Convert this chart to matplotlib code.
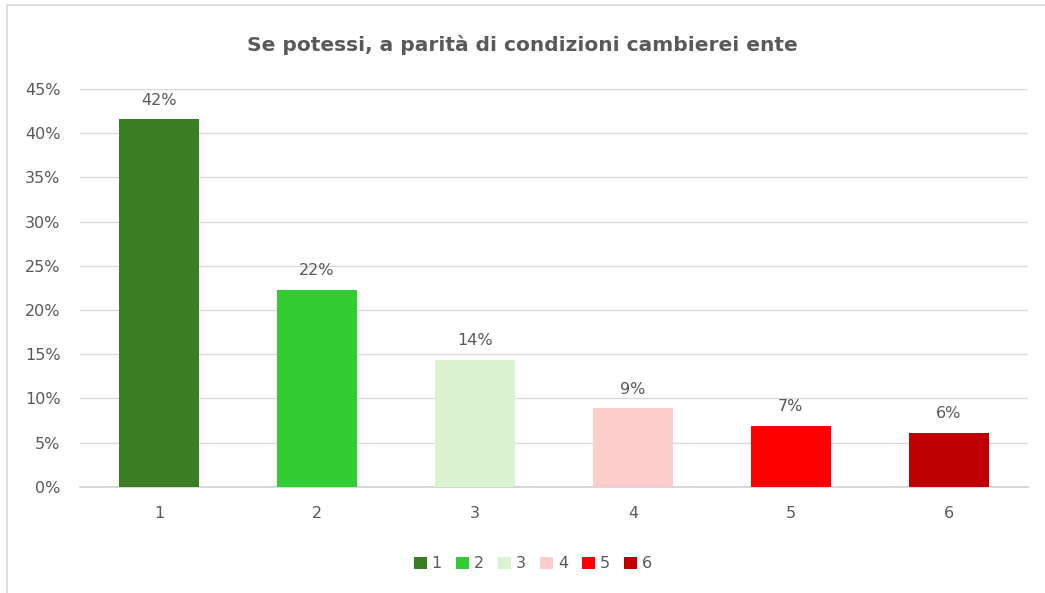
import matplotlib.pyplot as plt
from matplotlib.patches import Rectangle, Patch
from matplotlib.ticker import PercentFormatter

categories = ["1", "2", "3", "4", "5", "6"]
values = [0.416, 0.223, 0.144, 0.089, 0.069, 0.061]
labels = ["42%", "22%", "14%", "9%", "7%", "6%"]
colors = ["#3A7D22", "#33CC33", "#D9F2D0", "#FFCCCC", "#FF0000", "#C00000"]

text_color = "#595959"

fig = plt.figure(figsize=(10.45, 5.93), dpi=100)
ax = fig.add_axes([0.0766, 0.179, 0.907, 0.671])

# outer chart border
fig.patches.append(Rectangle((7 / 1045, -0.01), 1.01, 1 - 5 / 593 + 0.01,
                             transform=fig.transFigure, fill=False,
                             edgecolor="#D9D9D9", linewidth=1.2))

x = range(len(categories))
bars = ax.bar(x, values, width=0.506, color=colors, zorder=3)

for bar, lab in zip(bars, labels):
    ax.text(bar.get_x() + bar.get_width() / 2, bar.get_height() + 0.013, lab,
            ha="center", va="bottom", fontsize=11.5, color=text_color)

ax.set_xlim(-0.5, 5.5)
ax.set_ylim(0, 0.45)
ax.set_yticks([i * 0.05 for i in range(10)])
ax.yaxis.set_major_formatter(PercentFormatter(1.0, decimals=0))
ax.set_xticks(list(x))
ax.set_xticklabels(categories)
ax.tick_params(axis="both", length=0, labelsize=11.5, labelcolor=text_color)
ax.tick_params(axis="x", pad=14)
ax.tick_params(axis="y", pad=14)

ax.grid(axis="y", color="#D9D9D9", linewidth=1, zorder=0)
for side in ["top", "right", "left"]:
    ax.spines[side].set_visible(False)
ax.spines["bottom"].set_color("#D0D0D0")
ax.spines["bottom"].set_linewidth(1.2)

fig.text(0.5, 1 - 45 / 593, "Se potessi, a parità di condizioni cambierei ente",
         ha="center", va="center", fontsize=14.5, fontweight="bold", color=text_color)

handles = [Patch(facecolor=c) for c in colors]
fig.legend(handles, categories, loc="center", bbox_to_anchor=(533 / 1045, 1 - 564 / 593),
           ncol=6, frameon=False, fontsize=11.5, labelcolor=text_color,
           handlelength=0.8, handleheight=0.8, handletextpad=0.3, columnspacing=0.9)

fig.savefig("out.png", dpi=100)
